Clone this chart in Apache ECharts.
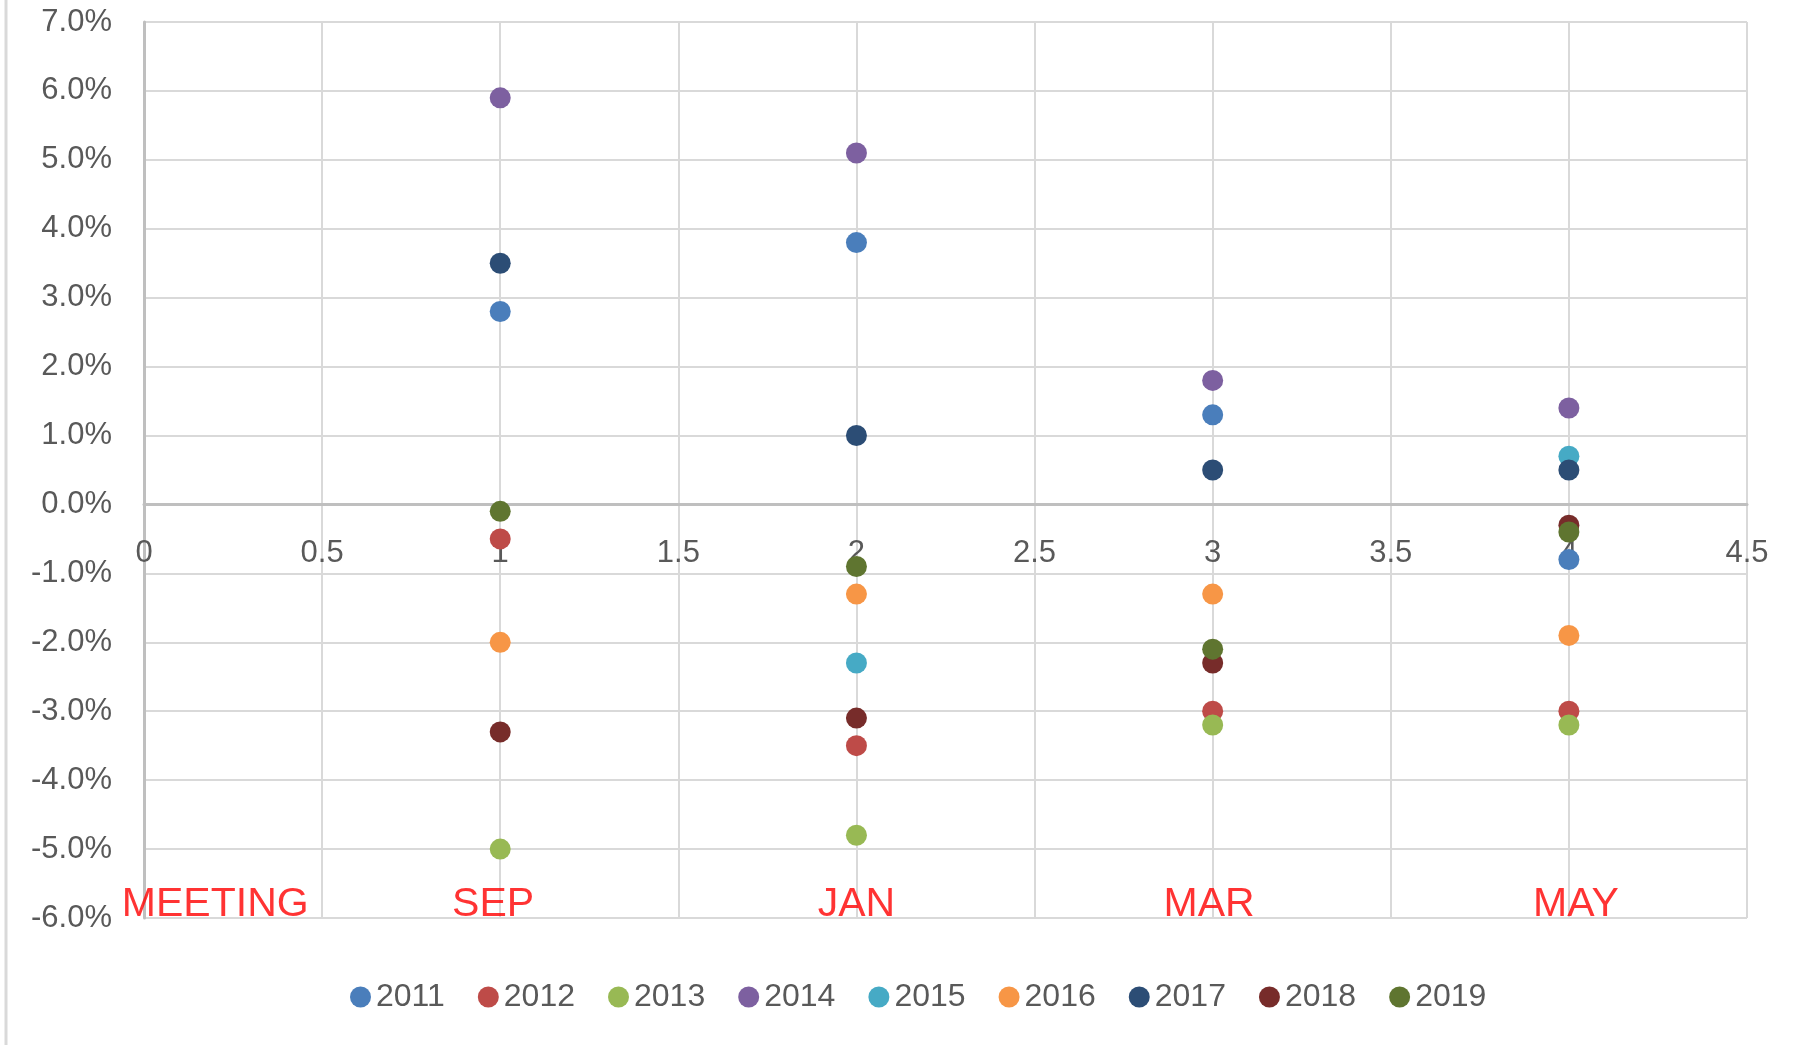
<!DOCTYPE html>
<html>
<head>
<meta charset="utf-8">
<script src="https://cdn.jsdelivr.net/npm/echarts@6/dist/echarts.min.js"></script>
<style>
html,body{margin:0;padding:0;background:#fff;}
#chart{width:1806px;height:1045px;}
</style>
</head>
<body>
<div id="chart"></div>
<script>
// x positions of the meetings (1=SEP, 2=JAN, 3=MAR, 4=MAY)
const meetingX = [1, 2, 3, 4];
const years = ['2011','2012','2013','2014','2015','2016','2017','2018','2019'];
// values in percent, one per meeting (SEP, JAN, MAR, MAY); null = no point
const v2011 = [2.8, 3.8, 1.3, -0.8];
const v2012 = [-0.5, -3.5, -3.0, -3.0];
const v2013 = [-5.0, -4.8, -3.2, -3.2];
const v2014 = [5.9, 5.1, 1.8, 1.4];
const v2015 = [null, -2.3, null, 0.7];
const v2016 = [-2.0, -1.3, -1.3, -1.9];
const v2017 = [3.5, 1.0, 0.5, 0.5];
const v2018 = [-3.3, -3.1, -2.3, -0.3];
const v2019 = [-0.1, -0.9, -2.1, -0.4];
const seriesValues = [v2011, v2012, v2013, v2014, v2015, v2016, v2017, v2018, v2019];
const colors = ['#4a7ebb','#be4b48','#98b954','#7d60a0','#46aac5','#f79646','#2c4d75','#772c2a','#5f7530'];
// red text annotations
const noteText = ['MEETING', 'SEP', 'JAN', 'MAR', 'MAY'];
const noteX = [0.2, 0.98, 2.0, 2.99, 4.02];
const noteY = [-5.8, -5.8, -5.8, -5.8, -5.8];

const yMin = -6, yMax = 7;
const gridTop = 22, gridBottom = 127, chartH = 1045;
const plotH = chartH - gridTop - gridBottom;
// move the x axis up to the zero line (axis crosses at 0, like the source)
const zeroOffset = -plotH * (0 - yMin) / (yMax - yMin);

const chart = echarts.init(document.getElementById('chart'), null, {renderer: 'canvas'});
const fontFam = '"Liberation Sans", Arial, sans-serif';
const series = years.map((y, i) => ({
  name: y,
  type: 'scatter',
  symbol: 'circle',
  symbolSize: 21,
  itemStyle: {color: colors[i], opacity: 1},
  data: meetingX.map((x, j) => seriesValues[i][j] == null ? null : [x, seriesValues[i][j]]).filter(d => d),
  z: 3 + i
}));
series.push({
  name: 'notes',
  type: 'scatter',
  symbolSize: 1,
  silent: true,
  itemStyle: {color: 'transparent'},
  label: {
    show: true, position: 'inside', color: '#ff0000', fontSize: 41,
    fontFamily: fontFam,
    formatter: p => p.name
  },
  data: noteText.map((t, i) => ({name: t, value: [noteX[i], noteY[i]]})),
  z: 20
});

chart.setOption({
  animation: false,
  backgroundColor: '#ffffff',
  grid: {left: 144, right: 59, top: gridTop, bottom: gridBottom, containLabel: false},
  xAxis: {
    type: 'value', min: 0, max: 4.5, interval: 0.5,
    offset: zeroOffset,
    axisLine: {show: true, onZero: false, lineStyle: {color: '#bfbfbf', width: 3}},
    axisTick: {show: false},
    axisLabel: {color: '#595959', fontSize: 31, fontFamily: fontFam, margin: 33},
    splitLine: {show: true, lineStyle: {color: '#d9d9d9', width: 2}}
  },
  yAxis: {
    type: 'value', min: yMin, max: yMax, interval: 1,
    axisLine: {show: true, onZero: false, lineStyle: {color: '#bfbfbf', width: 3}},
    axisTick: {show: false},
    axisLabel: {color: '#595959', fontSize: 31, fontFamily: fontFam, margin: 32,
      formatter: v => v.toFixed(1) + '%'},
    splitLine: {show: true, lineStyle: {color: '#d9d9d9', width: 2}}
  },
  legend: {
    data: years.map(y => ({name: y, icon: 'circle'})),
    left: 345, top: 976,
    itemWidth: 21, itemHeight: 21, itemGap: 33,
    textStyle: {color: '#595959', fontSize: 32, fontFamily: fontFam}
  },
  graphic: [{
    type: 'line', shape: {x1: 6, y1: 0, x2: 6, y2: 1045},
    style: {stroke: '#d9d9d9', lineWidth: 3}
  }],
  series: series
});
</script>
</body>
</html>
